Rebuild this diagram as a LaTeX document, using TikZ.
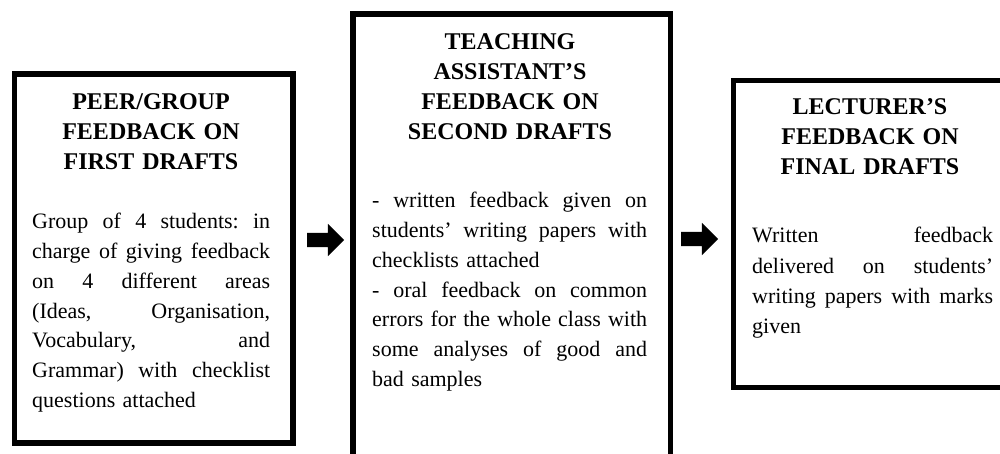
\documentclass[tikz,border=0pt]{standalone}
\usepackage{fontspec}
\setmainfont{Liberation Serif}
\usetikzlibrary{shapes.arrows}
\newcommand\jline[2]{\leavevmode\hbox to #1{#2}}
\begin{document}
\begin{tikzpicture}[x=1pt,y=-1pt,
  box/.style={draw=black,line width=5.5pt,fill=white,inner sep=0pt,anchor=north west},
  head/.style={font=\fontsize{24}{30}\selectfont\bfseries,text width=280pt,align=center,anchor=base,inner sep=0pt},
  body/.style={font=\fontsize{22}{29.7}\selectfont,align=left,anchor=base west,inner sep=0pt},
  blockarrow/.style={single arrow,fill=black,draw=none,inner xsep=0pt,inner ysep=7pt,
    minimum height=37pt,single arrow head extend=9pt,single arrow tip angle=90}
]
\useasboundingbox (0,0) rectangle (1000,454);
\clip (0,0) rectangle (1000,454);
\fill[white] (0,0) rectangle (1000,454);

% boxes
\node[box,minimum width=278.5pt,minimum height=368.5pt] (b1) at (11.5,71.5) {};
\node[box,minimum width=317.5pt,minimum height=470pt] (b2) at (350,11.5) {};
\node[box,minimum width=320pt,minimum height=306.5pt] (b3) at (730.5,78) {};

% arrows
\node[blockarrow] (a1) at (322,240) {};
\node[blockarrow] (a2) at (696,239) {};

% headings
\node[head] (h1) at (151,110) {PEER/GROUP\\FEEDBACK ON\\FIRST DRAFTS};
\node[head] (h2) at (510,50) {TEACHING\\ASSISTANT’S\\FEEDBACK ON\\SECOND DRAFTS};
\node[head] (h3) at (870,115) {LECTURER’S\\FEEDBACK ON\\FINAL DRAFTS};

% bodies
\node[body,text width=238pt] (t1) at (32,229) {%
\jline{238pt}{Group\hfill of\hfill 4\hfill students:\hfill in}\\
\jline{238pt}{charge\hfill of\hfill giving\hfill feedback}\\
\jline{238pt}{on\hfill 4\hfill different\hfill areas}\\
\jline{238pt}{(Ideas,\hfill Organisation,}\\
\jline{238pt}{Vocabulary,\hfill and}\\
\jline{238pt}{Grammar)\hfill with\hfill checklist}\\
questions attached};

\node[body,text width=275pt] (t2) at (372,208) {%
\jline{275pt}{-\hfill written\hfill feedback\hfill given\hfill on}\\
\jline{275pt}{students’\hfill writing\hfill papers\hfill with}\\
checklists attached\\
\jline{275pt}{-\hfill oral\hfill feedback\hfill on\hfill common}\\
\jline{275pt}{errors\hfill for\hfill the\hfill whole\hfill class\hfill with}\\
\jline{275pt}{some\hfill analyses\hfill of\hfill good\hfill and}\\
bad samples};

\node[body,text width=241pt,font=\fontsize{22}{30}\selectfont] (t3) at (752,243) {%
\jline{241pt}{Written\hfill feedback}\\
\jline{241pt}{delivered\hfill on\hfill students’}\\
\jline{241pt}{writing\hfill papers\hfill with\hfill marks}\\
given};
\end{tikzpicture}
\end{document}
